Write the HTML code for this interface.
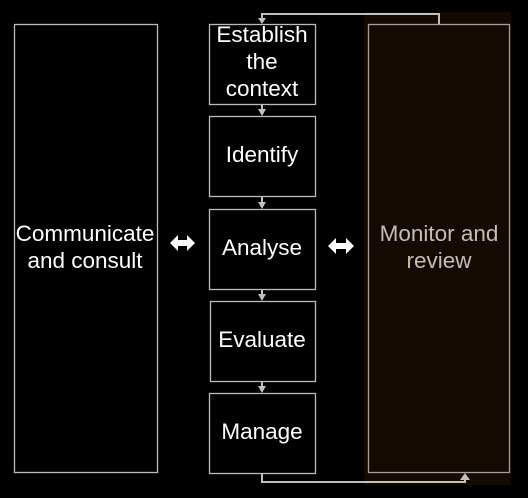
<html><body style="margin:0;width:528px;height:498px;background:#000;overflow:hidden">
<svg width="528" height="498" xmlns="http://www.w3.org/2000/svg" style="position:absolute;left:0;top:0">
<rect x="364" y="12" width="147" height="473" fill="#130b03"/>
<g fill="none" stroke="#bbb" stroke-width="1.3">
<rect x="14.5" y="24.5" width="143" height="448"/>
<rect x="209.5" y="24.5" width="106" height="80"/>
<rect x="209.5" y="116.5" width="106" height="80"/>
<rect x="209.5" y="209.5" width="106" height="80"/>
<rect x="210.5" y="301.5" width="105" height="80"/>
<rect x="209.5" y="393.5" width="106" height="80"/>
</g>
<rect x="368.5" y="24.5" width="141" height="448" fill="#130b03" stroke="#a89e92" stroke-width="1.3"/>
<g stroke="#c0c0c0" stroke-width="2" fill="none">
<polyline points="439,24 439,14 262,14 262,20"/>
<polyline points="262,474 262,482 465,482 465,478"/>
<line x1="262" y1="105" x2="262" y2="111"/>
<line x1="262" y1="197" x2="262" y2="204"/>
<line x1="262" y1="290" x2="262" y2="296"/>
<line x1="262" y1="382" x2="262" y2="388"/>
</g>
<g fill="#c0c0c0">
<polygon points="258,18 266,18 262,24"/>
<polygon points="258,109 266,109 262,116"/>
<polygon points="258,202 266,202 262,209"/>
<polygon points="258,294 266,294 262,301"/>
<polygon points="258,386 266,386 262,393"/>
<polygon points="460,480 470,480 465,473"/>
</g>
<g fill="#fff">
<polygon points="170,243 178,235 178,240 187,240 187,235 195,243 187,251 187,246 178,246 178,251"/>
<polygon points="328,246 336,238 336,243 346,243 346,238 354,246 346,254 346,249 336,249 336,254"/>
</g>
<g font-family="Liberation Sans, sans-serif" font-size="22.5" fill="#fff" text-anchor="middle">
<text x="262" y="42">Establish</text><text x="262" y="69">the</text><text x="262" y="96">context</text>
<text x="262" y="162">Identify</text>
<text x="262" y="255">Analyse</text>
<text x="262" y="347">Evaluate</text>
<text x="262" y="439">Manage</text>
<text x="85" y="241">Communicate</text><text x="85" y="268">and consult</text>
<text x="439" y="241" fill="#c8bcad">Monitor and</text><text x="439" y="268" fill="#c8bcad">review</text>
</g>
</svg>
</body></html>
